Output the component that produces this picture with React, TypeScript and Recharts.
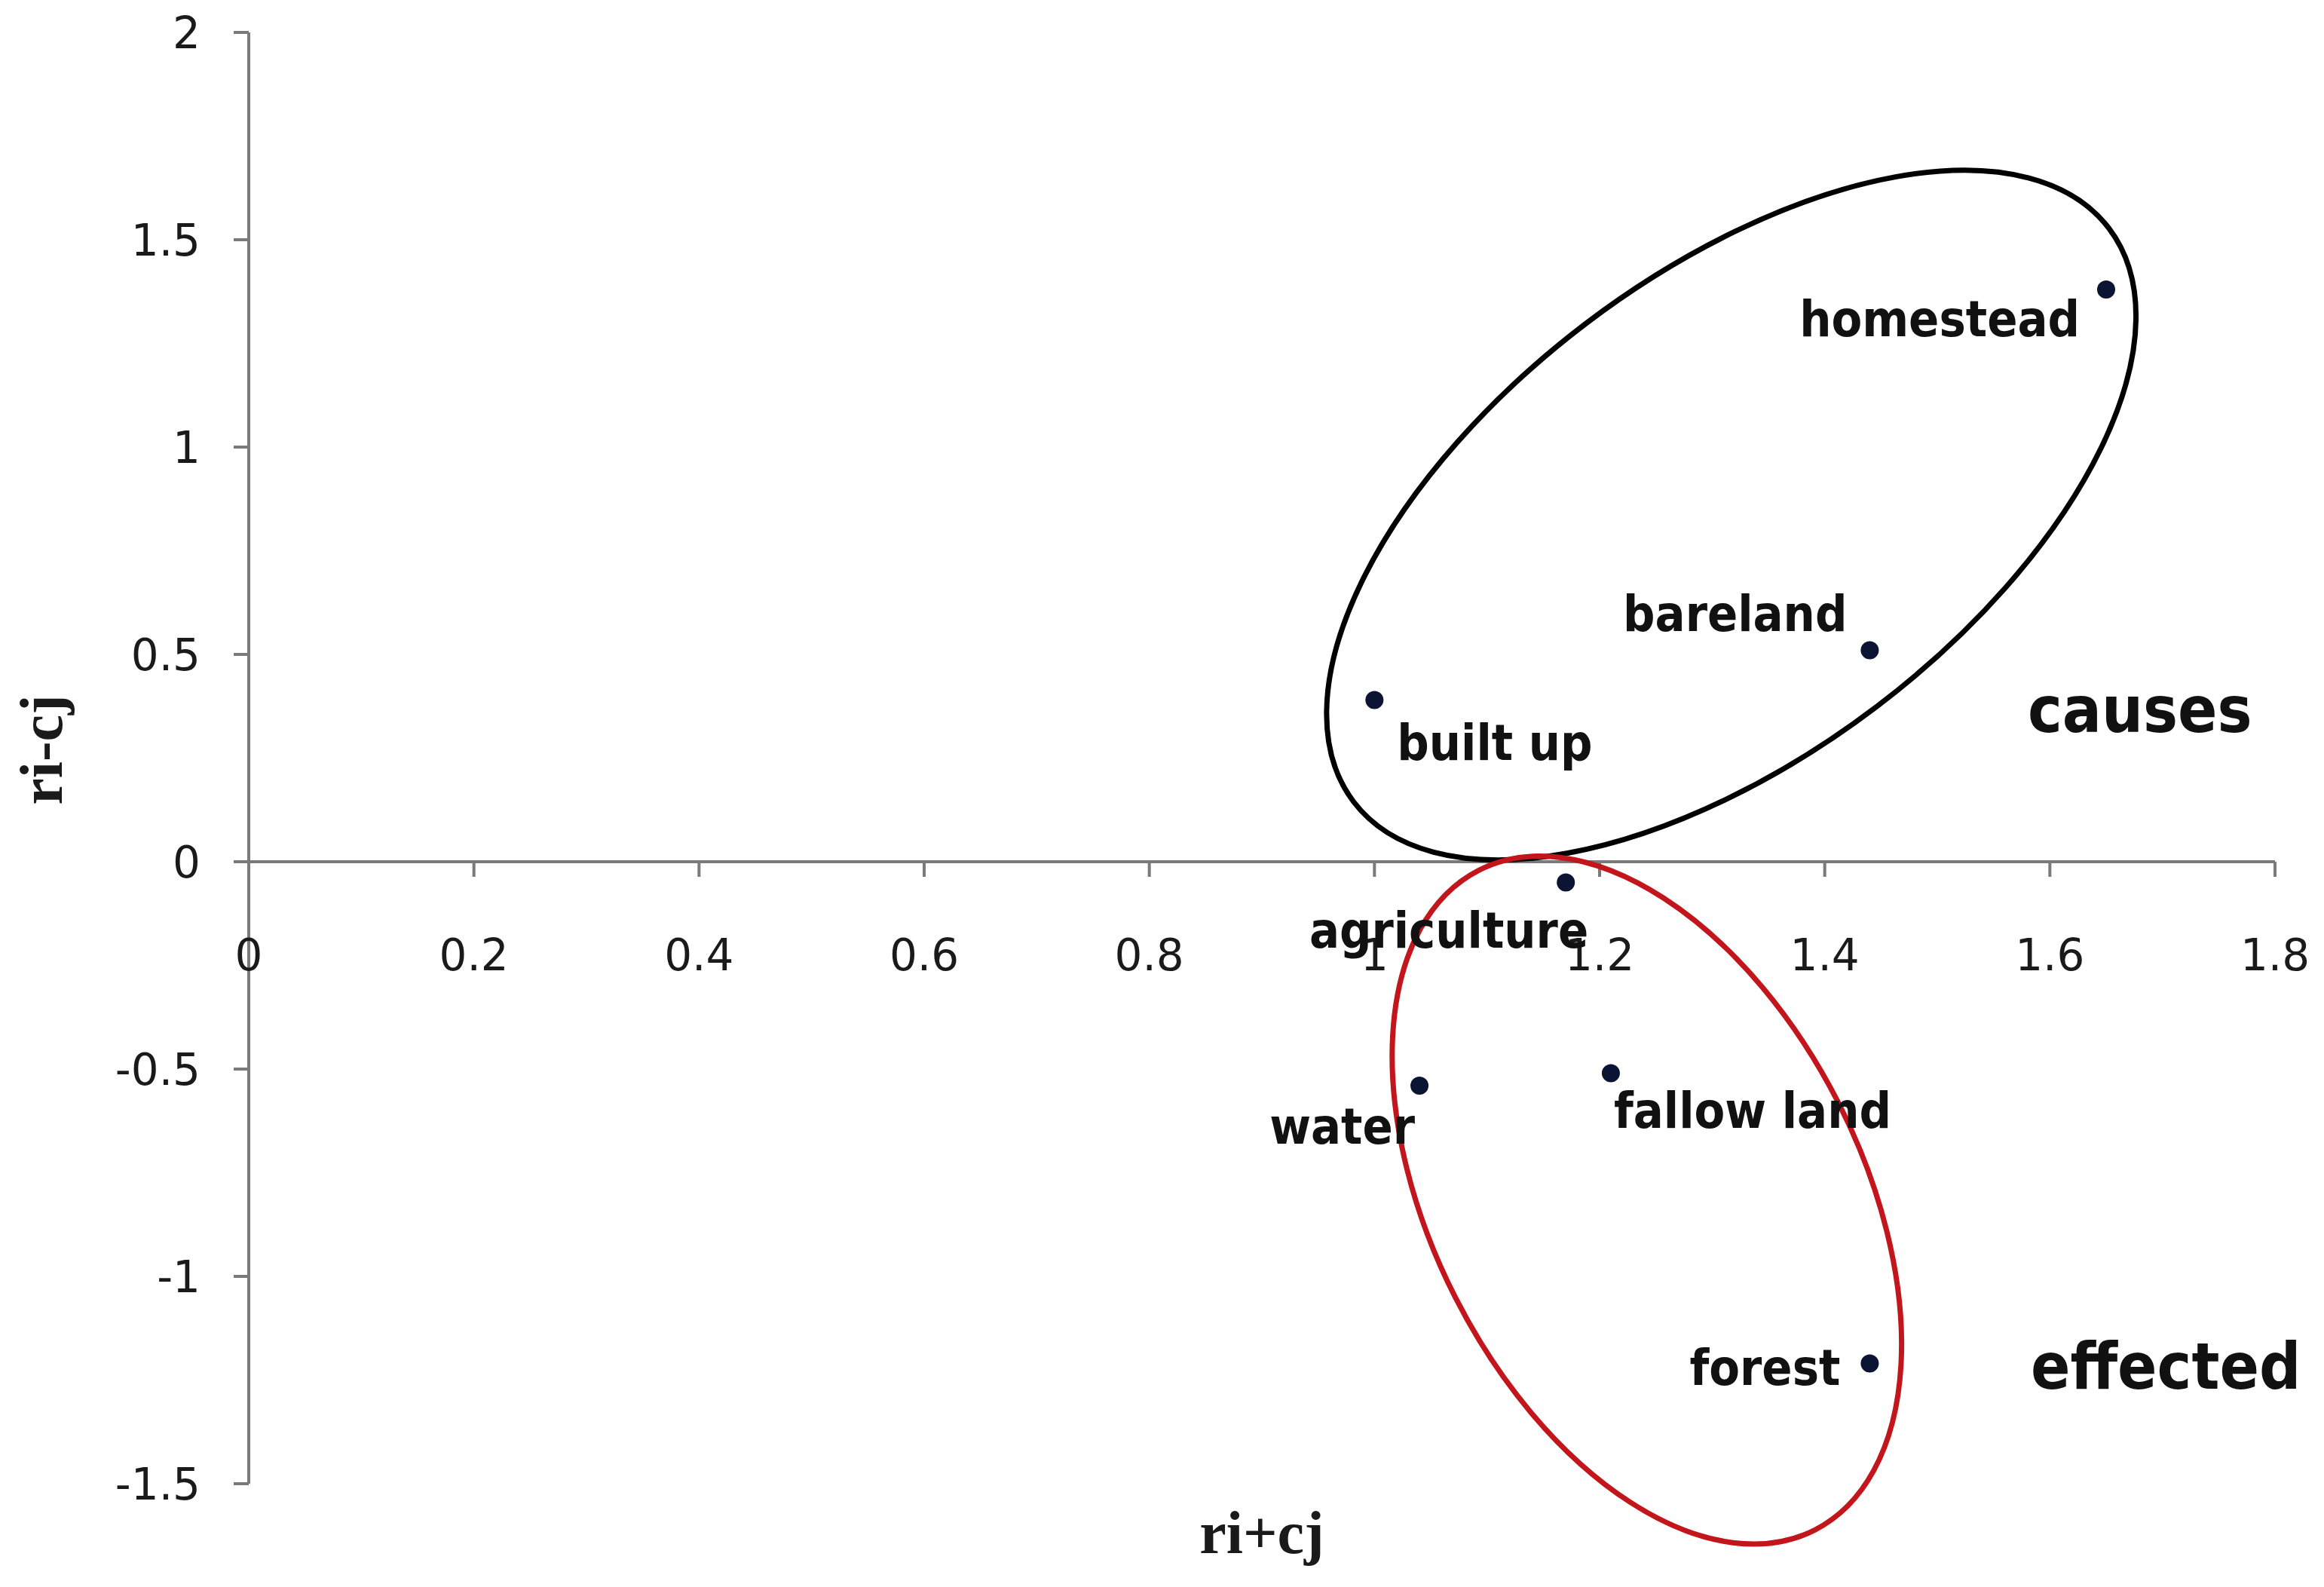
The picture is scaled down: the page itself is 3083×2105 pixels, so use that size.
import React from 'react';
import { ScatterChart, Scatter, XAxis, YAxis, ReferenceLine, ReferenceDot } from 'recharts';

// land-use classes, DEMATEL style cause/effect plot
const NAMES = ['homestead', 'bareland', 'built up', 'agriculture', 'water', 'fallow land', 'forest'];
const RI_PLUS_CJ = [1.65, 1.44, 1.0, 1.17, 1.04, 1.21, 1.44];
const RI_MINUS_CJ = [1.38, 0.51, 0.39, -0.05, -0.54, -0.51, -1.21];

const X_TICKS = [0, 0.2, 0.4, 0.6, 0.8, 1, 1.2, 1.4, 1.6, 1.8];
const Y_TICKS = [-1.5, -1, -0.5, 0, 0.5, 1, 1.5, 2];

const data = NAMES.map((name, i) => ({ name, x: RI_PLUS_CJ[i], y: RI_MINUS_CJ[i] }));

// where each point label sits relative to its dot
const LABEL_LAYOUT: Record<string, { dx: number; dy: number; anchor: string }> = {
  homestead: { dx: -35, dy: 62, anchor: 'end' },
  bareland: { dx: -30, dy: -26, anchor: 'end' },
  'built up': { dx: 30, dy: 79, anchor: 'start' },
  agriculture: { dx: 30, dy: 86, anchor: 'end' },
  water: { dx: -6, dy: 77, anchor: 'end' },
  'fallow land': { dx: 4, dy: 72, anchor: 'start' },
  forest: { dx: -39, dy: 28, anchor: 'end' },
};

const AXIS = '#7a7a7a';
const TICK_FONT = { fontSize: 58, fontFamily: 'DejaVu Sans, Verdana, sans-serif', fill: '#1a1a1a' };
const LABEL_FONT = "'DejaVu Sans Condensed', 'DejaVu Sans', sans-serif";
const TITLE_FONT = "'Liberation Serif', 'DejaVu Serif', serif";

const PointShape = (props: any) => {
  const { cx, cy, payload } = props;
  const l = LABEL_LAYOUT[payload.name];
  return (
    <g>
      <circle cx={cx} cy={cy} r={12} fill="#0b1433" />
      <text
        x={cx + l.dx}
        y={cy + l.dy}
        textAnchor={l.anchor as any}
        fontSize={66}
        fontWeight="bold"
        fontFamily={LABEL_FONT}
        style={{ fontStretch: 'condensed' }}
        fill="#111"
      >
        {payload.name}
      </text>
    </g>
  );
};

const XTick = (value: number) => (props: any) => {
  const { cx, cy } = props;
  return (
    <g>
      {value !== 0 && <line x1={cx} y1={cy} x2={cx} y2={cy + 20} stroke={AXIS} strokeWidth={4} />}
      <text x={cx} y={cy + 144} textAnchor="middle" {...TICK_FONT}>
        {value}
      </text>
    </g>
  );
};

const Ellipse = (rx: number, ry: number, angle: number, color: string) => (props: any) => {
  const { cx, cy } = props;
  return (
    <ellipse
      cx={cx}
      cy={cy}
      rx={rx}
      ry={ry}
      transform={`rotate(${angle} ${cx} ${cy})`}
      fill="none"
      stroke={color}
      strokeWidth={7}
    />
  );
};

const BigWord = (word: string, dy: number) => (props: any) => (
  <text
    x={props.cx}
    y={props.cy + dy}
    textAnchor="middle"
    fontSize={86}
    fontWeight="bold"
    fontFamily={LABEL_FONT}
    style={{ fontStretch: 'condensed' }}
    fill="#111"
  >
    {word}
  </text>
);

export default function App() {
  return (
    <div style={{ position: 'absolute', left: 0, top: 0, background: '#fff' }}>
      <ScatterChart width={3083} height={2105} margin={{ top: 43, right: 65, bottom: 0, left: 0 }}>
        <XAxis
          type="number"
          dataKey="x"
          domain={[0, 1.8]}
          ticks={X_TICKS}
          tick={false}
          axisLine={false}
          tickLine={false}
          height={137}
          label={{
            value: 'ri+cj',
            position: 'insideBottom',
            offset: 45,
            fontSize: 80,
            fontWeight: 'bold',
            fontFamily: TITLE_FONT,
            fill: '#1a1a1a',
          }}
        />
        <YAxis
          type="number"
          dataKey="y"
          domain={[-1.5, 2]}
          ticks={Y_TICKS}
          width={330}
          tick={TICK_FONT}
          tickSize={20}
          tickMargin={44}
          axisLine={{ stroke: AXIS, strokeWidth: 4 }}
          tickLine={{ stroke: AXIS, strokeWidth: 4 }}
          label={(p: any) => {
            const vb = p.viewBox;
            const cy = vb.y + vb.height / 2 - 11;
            return (
              <text
                x={82}
                y={cy}
                transform={`rotate(-90 82 ${cy})`}
                textAnchor="middle"
                fontSize={80}
                fontWeight="bold"
                fontFamily={TITLE_FONT}
                fill="#1a1a1a"
              >
                ri-cj
              </text>
            );
          }}
        />
        <ReferenceLine y={0} stroke={AXIS} strokeWidth={4} />
        {X_TICKS.map((v) => (
          <ReferenceDot key={v} x={v} y={0} r={1} shape={XTick(v)} />
        ))}
        <ReferenceDot x={1.317} y={0.836} r={1} shape={Ellipse(629, 319, -37.2, '#000')} />
        <ReferenceDot x={1.242} y={-0.816} r={1} shape={Ellipse(491, 285, 63, '#c3161c')} />
        <ReferenceDot x={1.68} y={0.355} r={1} shape={BigWord('causes', 23)} />
        <ReferenceDot x={1.703} y={-1.215} r={1} shape={BigWord('effected', 31)} />
        <Scatter data={data} shape={PointShape} isAnimationActive={false} />
      </ScatterChart>
    </div>
  );
}
